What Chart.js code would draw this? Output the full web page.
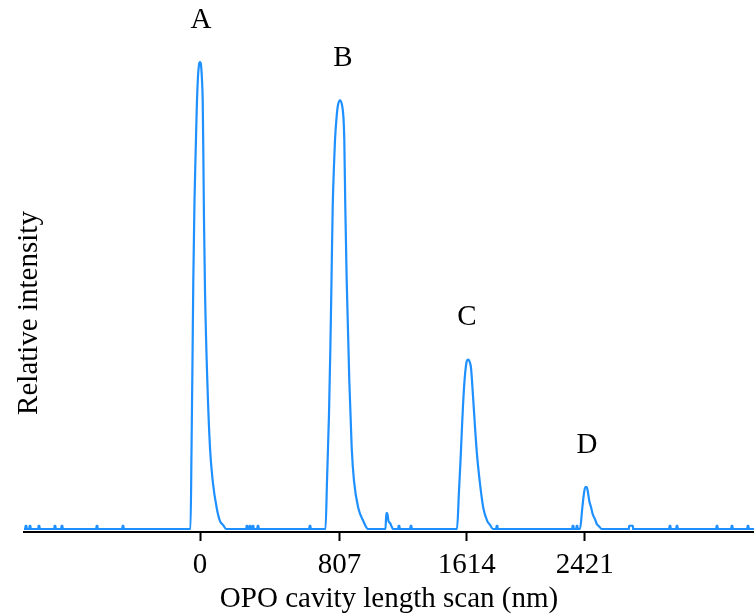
<!DOCTYPE html>
<html>
<head>
<meta charset="utf-8">
<script src="https://cdn.jsdelivr.net/npm/chart.js@4"></script>
<style>
  body { margin: 0; background: #fff; }
  canvas { display: block; }
</style>
</head>
<body>
<canvas id="chart" width="754" height="615"></canvas>
<script>
// scan position (arbitrary scan units, 0 = peak A) and relative intensity of the trace
const scanX = [
  -176,
  -9.5, -8.5, -7.5, -6.7, -5.5, -4.3, -3.3, -2.2, -1, 0, 1, 2, 2.7, 3.3, 4, 5, 7.3, 10, 12.7, 16.7, 20, 23, 26,
  125.5, 127, 129, 130.5, 131.5, 132.7, 134, 135, 136.5, 138, 140, 142, 143.5, 144.3, 145.3, 146.7, 149.3, 151.7, 154, 158.3, 163.3, 168,
  185.5, 186.3, 187.2, 188.5, 190, 191.5, 193,
  257, 259, 260.5, 261.7, 263, 264.3, 265.7, 267, 268.3, 269.7, 271, 273.3, 276.7, 280, 283.3, 287.3, 290, 293,
  380, 382.3, 384, 385.3, 386.7, 387.7, 389.3, 391, 392.7, 395, 396.7, 399, 401.7,
  554
];
const intensity = [
  0,
  0, 0.167, 0.361, 0.532, 0.704, 0.811, 0.897, 0.961, 0.994, 1, 0.994, 0.961, 0.918, 0.811, 0.661, 0.511, 0.318, 0.174, 0.103, 0.045, 0.017, 0.009, 0,
  0, 0.103, 0.247, 0.403, 0.532, 0.689, 0.779, 0.833, 0.880, 0.908, 0.918, 0.908, 0.880, 0.833, 0.689, 0.532, 0.318, 0.174, 0.103, 0.045, 0.017, 0,
  0, 0.034, 0.034, 0.017, 0.013, 0.006, 0,
  0, 0.082, 0.146, 0.204, 0.264, 0.311, 0.345, 0.361, 0.363, 0.358, 0.345, 0.275, 0.167, 0.097, 0.045, 0.017, 0.009, 0,
  0, 0.045, 0.077, 0.090, 0.090, 0.082, 0.060, 0.047, 0.032, 0.021, 0.011, 0.006, 0,
  0
];

// small noise spikes on the baseline
const spikeX = [-174, -170, -161, -145, -138, -103, -77, 47, 50, 53, 58, 110, 199, 211, 297, 373, 377, 431, 470, 477, 517, 532, 548];
const spikeH = [0.007, 0.007, 0.007, 0.007, 0.007, 0.007, 0.007, 0.007, 0.007, 0.007, 0.007, 0.007, 0.007, 0.007, 0.007, 0.007, 0.007, 0.007, 0.007, 0.007, 0.007, 0.007, 0.007];
const spikeW = [1.2, 1.2, 1.2, 1.2, 1.2, 1.2, 1.2, 1.2, 1.2, 1.2, 1.2, 1.2, 1.2, 1.2, 1.2, 1.2, 1.2, 4, 1.2, 1.2, 1.2, 1.2, 1.2];

// tick marks sit at the peaks
const tickPos = [0, 139.5, 266.7, 384.7];
const tickLabels = ["0", "807", "1614", "2421"];

const peakNames = ["A", "B", "C", "D"];
const peakX = [1, 143, 267, 387];
const peakY = [1, 0.918, 0.363, 0.09];

const points = scanX.map((x, i) => ({ x: x, y: intensity[i] }));
spikeX.forEach((x, i) => {
  const w = spikeW[i] / 2;
  points.push({ x: x - w, y: 0 }, { x: x - w + 0.01, y: spikeH[i] },
              { x: x + w - 0.01, y: spikeH[i] }, { x: x + w, y: 0 });
});
points.sort((a, b) => a.x - b.x);

const serif = "'Liberation Serif', 'Times New Roman', serif";

const peakLabelPlugin = {
  id: "peakLabels",
  afterDraw(chart) {
    const ctx = chart.ctx,
      xs = chart.scales.x,
      ys = chart.scales.y;
    ctx.save();
    ctx.font = "29px " + serif;
    ctx.fillStyle = "#000";
    ctx.textAlign = "center";
    ctx.textBaseline = "middle";
    peakNames.forEach((name, i) => {
      ctx.fillText(name, xs.getPixelForValue(peakX[i]), ys.getPixelForValue(peakY[i]) - 42);
    });
    // y axis title
    ctx.translate(29, 313);
    ctx.rotate(-Math.PI / 2);
    ctx.fillText("Relative intensity", 0, 0);
    ctx.restore();
  },
};

new Chart(document.getElementById("chart"), {
  type: "line",
  data: {
    datasets: [
      {
        data: points,
        borderColor: "rgb(30,144,255)",
        borderWidth: 2.2,
        pointRadius: 0,
        cubicInterpolationMode: "monotone",
        fill: false,
      },
    ],
  },
  options: {
    responsive: false,
    animation: false,
    devicePixelRatio: 1,
    layout: { padding: { left: 24, right: 0, top: 0, bottom: 0 } },
    plugins: { legend: { display: false }, tooltip: { enabled: false } },
    scales: {
      x: {
        type: "linear",
        min: -176,
        max: 554,
        afterBuildTicks: (scale) => {
          scale.ticks = tickPos.map((v) => ({ value: v }));
        },
        ticks: {
          autoSkip: false,
          maxRotation: 0,
          padding: 10,
          color: "#000",
          font: { family: serif, size: 29, lineHeight: 1 },
          callback: (value, index) => tickLabels[index],
        },
        grid: {
          display: true,
          drawOnChartArea: false,
          drawTicks: true,
          tickLength: 9,
          tickWidth: 2,
          tickColor: "#000",
        },
        border: { display: true, color: "#000", width: 2 },
        title: {
          display: true,
          text: "OPO cavity length scan (nm)",
          color: "#000",
          font: { family: serif, size: 29, lineHeight: 1 },
          padding: { top: -5, bottom: 1 },
        },
      },
      y: {
        display: false,
        min: -0.0064,
        max: 1.133,
      },
    },
  },
  plugins: [peakLabelPlugin],
});
</script>
</body>
</html>
